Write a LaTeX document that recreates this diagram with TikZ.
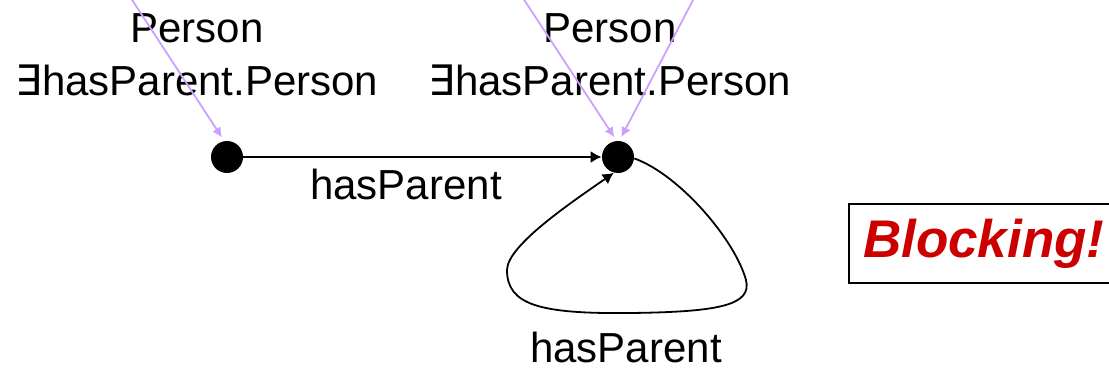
\documentclass[tikz,border=0pt]{standalone}
\usepackage{fontspec}
\setmainfont{Liberation Sans}
\newfontfamily\symfont{DejaVu Sans}
\usetikzlibrary{arrows.meta}
\definecolor{lilac}{RGB}{204,160,255}
\definecolor{blockred}{RGB}{204,0,0}
\tikzset{
  dot/.style={circle,fill=black,inner sep=0pt,minimum size=16pt},
  lbl/.style={font=\fontsize{21}{26.5}\selectfont,inner sep=0pt,anchor=base},
  rel/.style={-{Latex[length=5.5pt,width=6pt]},line width=0.9pt},
  hint/.style={lilac,line width=0.9pt,-{Latex[length=5pt,width=5pt]},shorten >=2pt}
}
\begin{document}
\begin{tikzpicture}[x=0.5pt,y=-0.5pt]
\useasboundingbox (0,0) rectangle (1109,374);
% labels of the two individuals
\node[lbl] (perL) at (197,43) {Person};
\node[lbl] (exL) at (197,96) {{\symfont ∃}hasParent.Person};
\node[lbl] (perR) at (610,43) {Person};
\node[lbl] (exR) at (610,96) {{\symfont ∃}hasParent.Person};
% individuals
\node[dot] (d1) at (227,157) {};
\node[dot] (d2) at (618,157) {};
% edges
\draw[rel] (d1) -- (d2);
\node[lbl] (e1) at (406,199) {hasParent};
\draw[rel] (d2.-5) .. controls (680,175) and (735,240) .. (746,280)
  .. controls (752,305) and (720,312) .. (630,313)
  .. controls (540,314) and (507,305) .. (507,270)
  .. controls (507,245) and (575,200) .. (d2.-105);
\node[lbl] (e2) at (626,362) {hasParent};
% incoming hints
\coordinate (hL) at (106,-40);
\coordinate (hR1) at (498,-40);
\coordinate (hR2) at (714,-40);
\draw[hint] (hL) -- (d1.100);
\draw[hint] (hR1) -- (d2.95);
\draw[hint] (hR2) -- (d2.85);
% verdict
\node[draw,line width=1pt,anchor=north west,minimum height=39.5pt,
  text width=135pt,align=left,inner xsep=7pt,
  font=\fontsize{26.5}{30}\selectfont\bfseries\itshape,text=blockred]
  (blk) at (848,203) {Blocking!};
\end{tikzpicture}
\end{document}
